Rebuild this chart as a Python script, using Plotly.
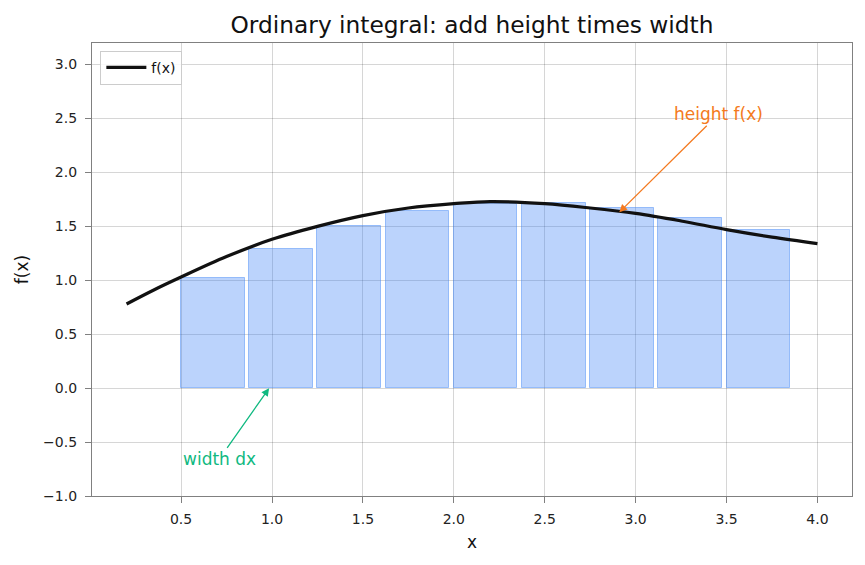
import plotly.graph_objects as go

# Curve samples
curve_x = [0.2, 0.35, 0.5, 0.75, 1.0, 1.25, 1.5, 1.75, 2.0, 2.2, 2.5, 2.75, 3.0, 3.25, 3.5, 3.75, 4.0]
curve_y = [0.78, 0.91, 1.03, 1.22, 1.38, 1.50, 1.60, 1.67, 1.71, 1.73, 1.71, 1.67, 1.62, 1.55, 1.47, 1.40, 1.34]

# Rectangles (left edges and heights)
bar_left = [0.5, 0.875, 1.25, 1.625, 2.0, 2.375, 2.75, 3.125, 3.5]
bar_height = [1.02, 1.29, 1.50, 1.64, 1.71, 1.715, 1.67, 1.58, 1.47]
bar_width = 0.35

x_ticks = [0.5, 1.0, 1.5, 2.0, 2.5, 3.0, 3.5, 4.0]
y_ticks = [-1.0, -0.5, 0.0, 0.5, 1.0, 1.5, 2.0, 2.5, 3.0]

FONT = "DejaVu Sans"

fig = go.Figure()
fig.add_trace(go.Bar(
    x=bar_left, y=bar_height, width=[bar_width] * len(bar_left), offset=0,
    marker=dict(color="rgba(59,130,246,0.35)",
                line=dict(color="rgba(59,130,246,0.45)", width=1)),
    showlegend=False, hoverinfo="skip",
))
fig.add_trace(go.Scatter(
    x=curve_x, y=curve_y, mode="lines", name="f(x)",
    line=dict(color="#111111", width=3.2, shape="spline", smoothing=1.0),
))

fig.add_annotation(
    x=2.91, y=1.63, ax=3.455, ay=2.54, xref="x", yref="y", axref="x", ayref="y",
    text="height f(x)", showarrow=True, arrowhead=2, arrowsize=1.2, arrowwidth=1.3,
    arrowcolor="#f47a20", font=dict(family=FONT, size=17, color="#f47a20"),
)
fig.add_annotation(
    x=0.984, y=0.0, ax=0.709, ay=-0.66, xref="x", yref="y", axref="x", ayref="y",
    text="width dx", showarrow=True, arrowhead=2, arrowsize=1.2, arrowwidth=1.3,
    arrowcolor="#10b981", font=dict(family=FONT, size=17, color="#10b981"),
)

axis_common = dict(
    showgrid=True, gridcolor="rgba(0,0,0,0.16)", gridwidth=0.8,
    showline=True, linecolor="#808080", linewidth=1.3, mirror=True,
    ticks="outside", ticklen=6, tickwidth=1.2, tickcolor="#808080",
    tickfont=dict(family=FONT, size=14, color="#222222"),
    zeroline=False,
)

fig.update_layout(
    width=865, height=565,
    margin=dict(l=92, r=13, t=43, b=69),
    paper_bgcolor="white", plot_bgcolor="white",
    title=dict(text="Ordinary integral: add height times width", x=0.5, xref="paper",
               y=1 - 24.5 / 565, yanchor="middle",
               font=dict(family=FONT, size=23.3, color="#111111")),
    xaxis=dict(range=[0.01, 4.19], tickvals=x_ticks, ticktext=[f"{v:.1f}" for v in x_ticks],
               ticklabelstandoff=4,
               title=dict(text="x", font=dict(family=FONT, size=17, color="#111111"), standoff=10),
               **axis_common),
    yaxis=dict(range=[-1.0, 3.2], tickvals=y_ticks,
               ticktext=[f"{v:.1f}".replace("-", "\u2212") for v in y_ticks],
               ticklabelstandoff=5,
               title=dict(text="f(x)", font=dict(family=FONT, size=17, color="#111111"), standoff=10),
               **axis_common),
    legend=dict(x=0.011, y=0.983, xanchor="left", yanchor="top", itemwidth=40,
                bgcolor="rgba(255,255,255,0.85)", bordercolor="#cccccc", borderwidth=1,
                font=dict(family=FONT, size=14, color="#111111")),
    bargap=0,
)

fig.write_html("out.html")
